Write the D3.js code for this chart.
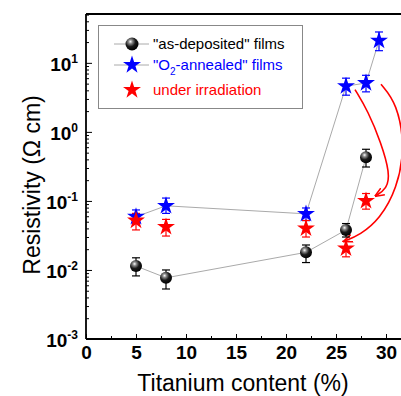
<!DOCTYPE html>
<html><head><meta charset="utf-8">
<script src="https://cdn.jsdelivr.net/npm/d3@7"></script>
<style>body{margin:0;background:#fff}svg{display:block}</style>
</head><body>
<svg id="c" width="401" height="396"></svg>
<script>
// Data
const depX = [5, 8, 22, 26, 28];
const depY = [0.0114, 0.0077, 0.018, 0.038, 0.43];
const depLo = [0.0082, 0.0053, 0.0128, 0.030, 0.31];
const depHi = [0.0150, 0.0100, 0.0230, 0.047, 0.56];

const annX = [5, 8, 22, 26, 28, 29.3];
const annY = [0.059, 0.085, 0.065, 4.6, 5.1, 21];
const annLo = [0.047, 0.066, 0.052, 3.4, 3.8, 15];
const annHi = [0.074, 0.11, 0.079, 6.0, 6.6, 28];

const irrX = [5, 8, 22, 26, 28];
const irrY = [0.052, 0.042, 0.040, 0.0206, 0.10];
const irrLo = [0.038, 0.031, 0.030, 0.0155, 0.076];
const irrHi = [0.066, 0.054, 0.052, 0.0260, 0.128];

const xTicks = [0, 5, 10, 15, 20, 25, 30];
const yTickExp = [-3, -2, -1, 0, 1];
const legendLabels = ['"as-deposited" films', '"O₂-annealed" films', 'under irradiation'];

const FONT = 'Liberation Sans, Arial, sans-serif';
const svg = d3.select('#c');
const x = d3.scaleLinear().domain([0, 31.5]).range([86, 401]);
const y = d3.scaleLog().domain([1e-3, 51]).range([339, 14]);

const defs = svg.append('defs');
const g = defs.append('radialGradient').attr('id','sph').attr('cx','38%').attr('cy','32%').attr('r','70%');
g.append('stop').attr('offset','0%').attr('stop-color','#ffffff');
g.append('stop').attr('offset','22%').attr('stop-color','#8a8a8a');
g.append('stop').attr('offset','55%').attr('stop-color','#1a1a1a');
g.append('stop').attr('offset','100%').attr('stop-color','#000000');

// Axes
const xAx = svg.append('g').attr('transform','translate(0,339)')
  .call(d3.axisBottom(x).tickValues(xTicks).tickSize(-5).tickPadding(7).tickFormat(d3.format('d')));
svg.append('g').attr('transform','translate(0,339)')
  .call(d3.axisBottom(x).tickValues([2.5,7.5,12.5,17.5,22.5,27.5]).tickSize(-3).tickFormat(''))
  .select('.domain').remove();
xAx.select('.domain').attr('d','M86,0H401');
xAx.selectAll('text').attr('font-family',FONT).attr('font-weight','bold').attr('font-size',19).attr('fill','#000');

const minor = [];
for (let e = -3; e < 2; e++) for (let m = 2; m <= 9; m++) { const v = m*Math.pow(10,e); if (v < 51) minor.push(v); }
svg.append('g').attr('transform','translate(86,0)')
  .call(d3.axisLeft(y).tickValues(minor).tickSize(-3).tickFormat(''))
  .select('.domain').remove();
const yAx = svg.append('g').attr('transform','translate(86,0)')
  .call(d3.axisLeft(y).tickValues(yTickExp.map(e=>Math.pow(10,e))).tickSize(-6).tickPadding(6).tickFormat(''));
yAx.select('.domain').attr('d','M0,339V14');
yAx.selectAll('.tick').each(function(d,i){
  const t = d3.select(this).append('text').attr('x',-8).attr('dy','0.38em').attr('text-anchor','end')
    .attr('font-family',FONT).attr('font-weight','bold').attr('font-size',19).attr('fill','#000');
  t.append('tspan').text('10');
  t.append('tspan').attr('font-size',12).attr('dy','-0.65em').text(yTickExp[i]);
});
svg.selectAll('.domain').attr('stroke','#000').attr('stroke-width',1.8);
svg.selectAll('.tick line').attr('stroke','#000').attr('stroke-width',1);
// top border
svg.append('line').attr('x1',86).attr('x2',401).attr('y1',y.range()[1]).attr('y2',y.range()[1]).attr('stroke','#000').attr('stroke-width',1.8);

// axis titles
svg.append('text').attr('x',243).attr('y',391).attr('text-anchor','middle')
  .attr('font-family',FONT).attr('font-size',23).text('Titanium content (%)');
svg.append('text').attr('transform','translate(40,185) rotate(-90)').attr('text-anchor','middle')
  .attr('font-family',FONT).attr('font-size',23).text('Resistivity (Ω cm)');

// connecting lines
const line = d3.line().x(d=>x(d[0])).y(d=>y(d[1]));
svg.append('path').attr('d', line(depX.map((v,i)=>[v,depY[i]]))).attr('fill','none').attr('stroke','#aaa').attr('stroke-width',1);
svg.append('path').attr('d', line(annX.map((v,i)=>[v,annY[i]]))).attr('fill','none').attr('stroke','#aaa').attr('stroke-width',1);

// red arrows
const arrowDefs = defs.append('marker').attr('id','ah').attr('viewBox','0 0 10 10').attr('refX',9).attr('refY',5)
  .attr('markerWidth',6).attr('markerHeight',6).attr('orient','auto-start-reverse');
arrowDefs.append('path').attr('d','M0,1L10,5L0,9').attr('fill','none').attr('stroke','red').attr('stroke-width',1.6);
const curve = d3.line().curve(d3.curveBasis).x(d=>x(d[0])).y(d=>y(d[1]));
const a1 = [[26.9, 4.1],[28.2, 2.0],[29.5, 0.7],[30.4, 0.25],[30.1, 0.15],[28.95, 0.118]];
const a2 = [[29.5, 4.9],[31.1, 2.6],[31.9, 0.6],[31.1, 0.15],[29.4, 0.055],[27.4, 0.032],[25.8, 0.026]];
svg.append('path').attr('d', curve(a1)).attr('fill','none').attr('stroke','red').attr('stroke-width',1.6).attr('marker-end','url(#ah)');
svg.append('path').attr('d', curve(a2)).attr('fill','none').attr('stroke','red').attr('stroke-width',1.6).attr('marker-end','url(#ah)');

// error bars
function errBars(X, lo, hi, color) {
  const gg = svg.append('g').attr('stroke',color).attr('stroke-width',1.2);
  X.forEach((v,i)=>{
    gg.append('line').attr('x1',x(v)).attr('x2',x(v)).attr('y1',y(lo[i])).attr('y2',y(hi[i]));
    gg.append('line').attr('x1',x(v)-4).attr('x2',x(v)+4).attr('y1',y(lo[i])).attr('y2',y(lo[i]));
    gg.append('line').attr('x1',x(v)-4).attr('x2',x(v)+4).attr('y1',y(hi[i])).attr('y2',y(hi[i]));
  });
}
errBars(depX, depLo, depHi, '#000');
errBars(annX, annLo, annHi, '#0000ff');
errBars(irrX, irrLo, irrHi, '#ff0000');

const star = d3.symbol().type(d3.symbolStar).size(100);
function stars(X, Y, color) {
  svg.append('g').selectAll('path').data(X).join('path')
    .attr('transform',(d,i)=>`translate(${x(d)},${y(Y[i])})`).attr('d', star()).attr('fill',color);
}
stars(annX, annY, '#0000ff');
stars(irrX, irrY, '#ff0000');
svg.append('g').selectAll('circle').data(depX).join('circle')
  .attr('cx',d=>x(d)).attr('cy',(d,i)=>y(depY[i])).attr('r',6).attr('fill','url(#sph)');

// legend
const lg = svg.append('g');
lg.append('rect').attr('x',98.5).attr('y',25.5).attr('width',204).attr('height',83).attr('fill','#fff').attr('stroke','#888').attr('stroke-width',1);
const ly = [44, 65, 90];
const lcol = ['#000','#0000ff','#ff0000'];
[0,1].forEach(i=>lg.append('line').attr('x1',114).attr('x2',149).attr('y1',ly[i]).attr('y2',ly[i]).attr('stroke','#aaa').attr('stroke-width',1));
lg.append('circle').attr('cx',132).attr('cy',ly[0]).attr('r',6.5).attr('fill','url(#sph)');
lg.append('path').attr('transform',`translate(132,${ly[1]})`).attr('d',star()).attr('fill','#0000ff');
lg.append('path').attr('transform',`translate(132,${ly[2]})`).attr('d',star()).attr('fill','#ff0000');
ly.forEach((yy,i)=>{
  const t = lg.append('text').attr('x',153).attr('y',yy).attr('dy','0.35em')
    .attr('font-family',FONT).attr('font-size',15).attr('fill',lcol[i]);
  if (i===1) {
    t.append('tspan').text('"O');
    t.append('tspan').attr('font-size',10).attr('dy','0.45em').text('2');
    t.append('tspan').attr('dy','-0.3em').text('-annealed" films');
  } else t.text(legendLabels[i]);
});
</script>
</body></html>
